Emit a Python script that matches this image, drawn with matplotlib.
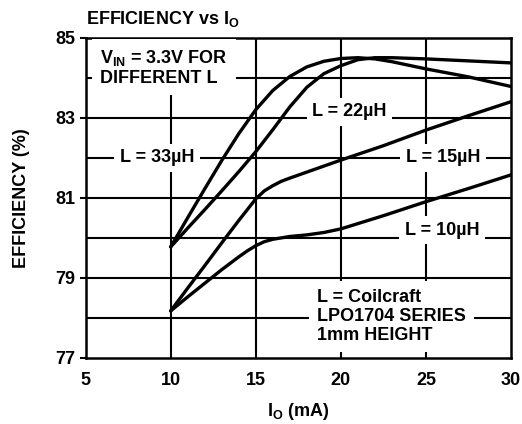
import matplotlib
matplotlib.use("Agg")
import matplotlib.pyplot as plt

plt.rcParams["font.family"] = ["Liberation Sans", "DejaVu Sans"]
plt.rcParams["font.weight"] = "bold"
plt.rcParams["mathtext.fontset"] = "custom"
plt.rcParams["mathtext.rm"] = "Liberation Sans:bold"
plt.rcParams["mathtext.default"] = "rm"

io_33 = [10, 11, 12, 13, 14, 15, 16, 17, 18, 19, 20, 21, 22, 23, 25, 27.5, 30]
eff_33 = [79.77, 80.5, 81.22, 81.93, 82.6, 83.2, 83.68, 84.03, 84.27, 84.41, 84.48,
          84.5, 84.47, 84.4, 84.22, 84.02, 83.78]

io_22 = [10, 11, 12, 13, 14, 15, 16, 17, 18, 19, 20, 21, 22, 23, 25, 27.5, 30]
eff_22 = [79.77, 80.24, 80.7, 81.17, 81.65, 82.15, 82.7, 83.27, 83.76, 84.1, 84.3,
          84.45, 84.5, 84.5, 84.47, 84.42, 84.37]

io_15 = [10, 11, 12, 13, 14, 15, 15.5, 16, 16.5, 17, 18, 20, 22.5, 25, 27.5, 30]
eff_15 = [78.17, 78.74, 79.3, 79.87, 80.43, 80.97, 81.17, 81.3, 81.41, 81.49, 81.64,
          81.94, 82.3, 82.69, 83.05, 83.4]

io_10 = [10, 11, 12, 13, 14, 14.5, 15, 15.5, 16, 17, 18, 19, 20, 22.5, 25, 27.5, 30]
eff_10 = [78.17, 78.52, 78.86, 79.2, 79.52, 79.67, 79.8, 79.9, 79.96, 80.03, 80.07,
          80.13, 80.22, 80.55, 80.9, 81.23, 81.57]

curve_labels = ["L = 33µH", "L = 22µH", "L = 15µH", "L = 10µH"]
label_pos = [(9.18, 82.0), (20.5, 83.15), (26.0, 82.0), (25.95, 80.19)]

x_ticks = [5, 10, 15, 20, 25, 30]
y_ticks = [77, 79, 81, 83, 85]

fs = 13

fig = plt.figure(figsize=(5.22, 4.24), dpi=100)
ax = fig.add_axes([0.164, 0.1564, 0.815, 0.7547])

ax.set_xlim(5, 30)
ax.set_ylim(77, 85)

for xv in [10, 15, 20, 25]:
    ax.axvline(xv, color="black", lw=1.5, zorder=1)
for yv in [78, 79, 80, 81, 82, 83, 84]:
    ax.axhline(yv, color="black", lw=1.5, zorder=1)

for xs, ys in [(io_33, eff_33), (io_22, eff_22), (io_15, eff_15), (io_10, eff_10)]:
    ax.plot(xs, ys, color="black", lw=2.4, solid_capstyle="round",
            solid_joinstyle="round", zorder=3)

box = dict(facecolor="white", edgecolor="none", pad=4)
for lab, (lx, ly) in zip(curve_labels, label_pos):
    ax.text(lx, ly, lab, ha="center", va="center", fontsize=fs,
            fontweight="bold", bbox=box, zorder=4)

ax.text(5.85, 84.25, "V$_{IN}$ = 3.3V FOR\nDIFFERENT L", ha="left", va="center",
        fontsize=fs, fontweight="bold", linespacing=1.12,
        bbox=dict(facecolor="white", edgecolor="none", pad=6), zorder=4)

ax.text(18.6, 78.03, "L = Coilcraft\nLPO1704 SERIES\n1mm HEIGHT", ha="left",
        va="center", fontsize=fs, fontweight="bold", linespacing=1.12,
        bbox=dict(facecolor="white", edgecolor="none", pad=6), zorder=4)

ax.set_xticks(x_ticks)
ax.set_yticks(y_ticks)
ax.tick_params(axis="both", labelsize=fs, length=4, width=1.5, direction="out")
ax.tick_params(axis="x", length=0, pad=10)
for lbl in ax.get_xticklabels() + ax.get_yticklabels():
    lbl.set_fontweight("bold")
for sp in ax.spines.values():
    sp.set_linewidth(1.8)

ax.set_xlabel("I$_{O}$ (mA)", fontsize=fs, fontweight="bold", labelpad=9)
ax.set_ylabel("EFFICIENCY (%)", fontsize=fs, fontweight="bold", labelpad=18)
ax.set_title("EFFICIENCY vs I$_{O}$", fontsize=fs, fontweight="bold",
             loc="left", pad=10)

fig.savefig("out.png", dpi=100)
